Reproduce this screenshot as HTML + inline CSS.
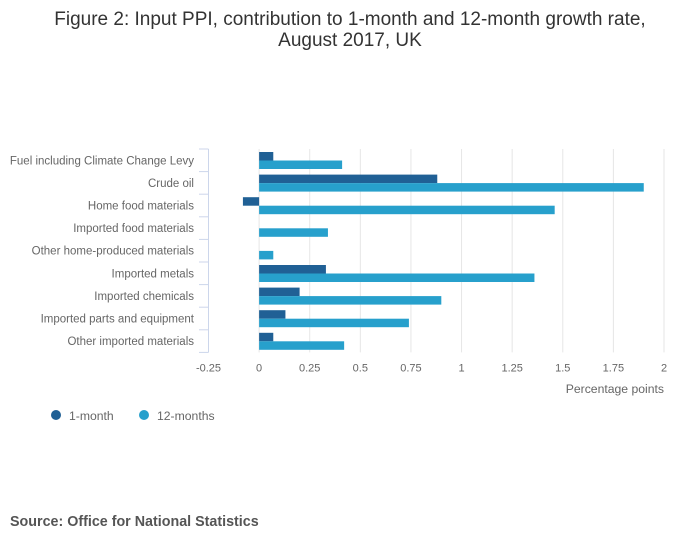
<!DOCTYPE html>
<html><head><meta charset="utf-8"><style>
body{margin:0;background:#fff;font-family:"Liberation Sans",sans-serif;}
svg text{font-family:"Liberation Sans",sans-serif;}
</style></head><body>
<svg width="700" height="549" viewBox="0 0 700 549">
<text x="350" y="25" text-anchor="middle" font-size="19" fill="#333">Figure 2: Input PPI, contribution to 1-month and 12-month growth rate,</text>
<text x="350" y="46" text-anchor="middle" font-size="19" fill="#333">August 2017, UK</text>
<g id="plot"></g>
<text x="664" y="393" text-anchor="end" font-size="12.2" fill="#666">Percentage points</text>
<circle cx="56" cy="415" r="5" fill="#206095"/>
<text x="69" y="420" font-size="12.2" fill="#666">1-month</text>
<circle cx="144" cy="415" r="5" fill="#27a0cc"/>
<text x="157" y="420" font-size="12.2" fill="#666">12-months</text>
<text x="10" y="526" font-size="14.3" font-weight="bold" fill="#555">Source: Office for National Statistics</text>
</svg>
<script>
const categories=["Fuel including Climate Change Levy","Crude oil","Home food materials","Imported food materials","Other home-produced materials","Imported metals","Imported chemicals","Imported parts and equipment","Other imported materials"];
const oneMonth=[0.07,0.88,-0.08,0,0,0.33,0.2,0.13,0.07];
const twelveMonths=[0.41,1.9,1.46,0.34,0.07,1.36,0.9,0.74,0.42];
const ticks=[-0.25,0,0.25,0.5,0.75,1,1.25,1.5,1.75,2];
const tickLabels=["-0.25","0","0.25","0.5","0.75","1","1.25","1.5","1.75","2"];
const NS="http://www.w3.org/2000/svg";
const g=document.getElementById('plot');
const top0=149,rowH=22.6,xMin=-0.25,xMax=2,px0=208.5,px1=664;
const x=v=>px0+(v-xMin)/(xMax-xMin)*(px1-px0);
function mk(t,a){const e=document.createElementNS(NS,t);for(const k in a)e.setAttribute(k,a[k]);g.appendChild(e);return e;}
const bottom=top0+rowH*categories.length;
ticks.forEach((t,i)=>{
 if(i>0){const l=mk('line',{x1:x(t),x2:x(t),y1:top0,y2:bottom,stroke:'#e6e6e6'});
 
 }
 const tx=mk('text',{x:x(t),y:bottom+19,'text-anchor':'middle','font-size':'11','fill':'#666'});
 tx.textContent=tickLabels[i];
 
 
});
const ax=mk('line',{x1:px0,x2:px0,y1:top0,y2:bottom,stroke:'#ccd6eb'});


for(let i=0;i<=categories.length;i++){
 const tk=mk('line',{x1:199,x2:px0,y1:top0+i*rowH,y2:top0+i*rowH,stroke:'#ccd6eb'});
 
 
}
categories.forEach((c,i)=>{
 const y0=top0+i*rowH;
 const lb=mk('text',{x:194,y:y0+rowH/2+4,'text-anchor':'end','font-size':'11.5',fill:'#666'});
 lb.textContent=c;
 
 
 const a=oneMonth[i],b=twelveMonths[i];
 const r1=mk('rect',{x:Math.min(x(0),x(a)),y:y0+3,width:Math.abs(x(a)-x(0)),height:8.5,fill:'#206095'});
 
 
 const r2=mk('rect',{x:Math.min(x(0),x(b)),y:y0+11.5,width:Math.abs(x(b)-x(0)),height:8.5,fill:'#27a0cc'});
 
 
});
</script>
</body></html>
